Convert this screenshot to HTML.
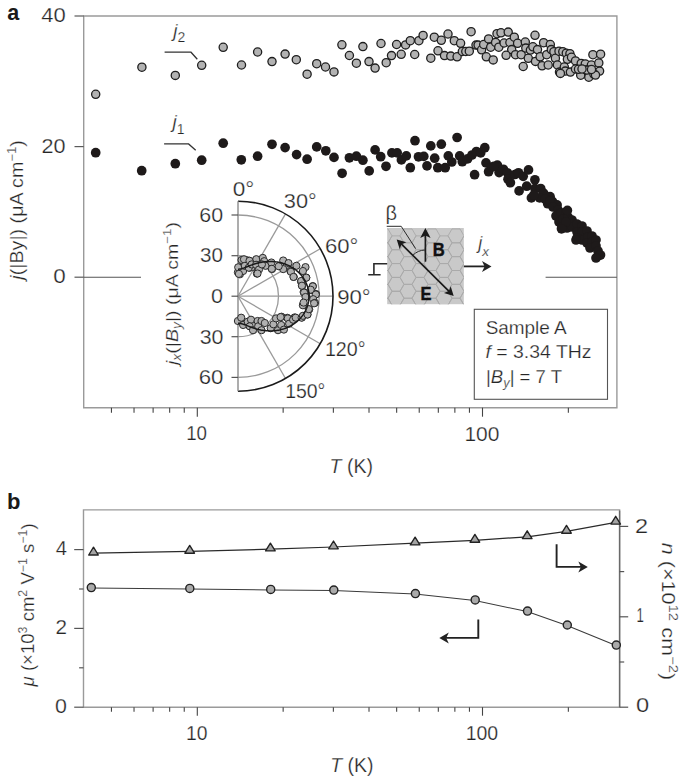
<!DOCTYPE html>
<html><head><meta charset="utf-8"><style>
html,body{margin:0;padding:0;background:#fff;overflow:hidden;width:685px;height:778px;}
svg{display:block;font-family:"Liberation Sans", sans-serif;}
text:not([font-weight]){stroke:#fff;stroke-width:0.25px;paint-order:normal;}
</style></head><body>
<svg width="685" height="778" viewBox="0 0 685 778">
<rect width="685" height="778" fill="#fff"/>
<path d="M83.7 16.0 H616.9 V407.7 H83.7 Z" fill="none" stroke="#9a9a9a" stroke-width="1.4"/>
<line x1="74.50" y1="16.00" x2="83.70" y2="16.00" stroke="#5a5a5a" stroke-width="1.2" />
<line x1="74.50" y1="146.60" x2="83.70" y2="146.60" stroke="#5a5a5a" stroke-width="1.2" />
<line x1="74.50" y1="277.20" x2="83.70" y2="277.20" stroke="#5a5a5a" stroke-width="1.2" />
<line x1="83.70" y1="277.20" x2="141.00" y2="277.20" stroke="#555" stroke-width="1.1" />
<line x1="545.60" y1="277.20" x2="616.90" y2="277.20" stroke="#555" stroke-width="1.1" />
<line x1="111.45" y1="407.70" x2="111.45" y2="412.70" stroke="#444" stroke-width="1.1" />
<line x1="134.03" y1="407.70" x2="134.03" y2="412.70" stroke="#444" stroke-width="1.1" />
<line x1="153.12" y1="407.70" x2="153.12" y2="412.70" stroke="#444" stroke-width="1.1" />
<line x1="169.66" y1="407.70" x2="169.66" y2="412.70" stroke="#444" stroke-width="1.1" />
<line x1="184.25" y1="407.70" x2="184.25" y2="412.70" stroke="#444" stroke-width="1.1" />
<line x1="283.15" y1="407.70" x2="283.15" y2="412.70" stroke="#444" stroke-width="1.1" />
<line x1="333.37" y1="407.70" x2="333.37" y2="412.70" stroke="#444" stroke-width="1.1" />
<line x1="369.01" y1="407.70" x2="369.01" y2="412.70" stroke="#444" stroke-width="1.1" />
<line x1="396.65" y1="407.70" x2="396.65" y2="412.70" stroke="#444" stroke-width="1.1" />
<line x1="419.23" y1="407.70" x2="419.23" y2="412.70" stroke="#444" stroke-width="1.1" />
<line x1="438.32" y1="407.70" x2="438.32" y2="412.70" stroke="#444" stroke-width="1.1" />
<line x1="454.86" y1="407.70" x2="454.86" y2="412.70" stroke="#444" stroke-width="1.1" />
<line x1="469.45" y1="407.70" x2="469.45" y2="412.70" stroke="#444" stroke-width="1.1" />
<line x1="568.35" y1="407.70" x2="568.35" y2="412.70" stroke="#444" stroke-width="1.1" />
<line x1="197.30" y1="407.70" x2="197.30" y2="416.70" stroke="#444" stroke-width="1.1" />
<line x1="482.50" y1="407.70" x2="482.50" y2="416.70" stroke="#444" stroke-width="1.1" />
<text x="7.20" y="19.80" font-size="22" textLength="12" lengthAdjust="spacingAndGlyphs" font-weight="bold" fill="#1a1a1a" >a</text>
<text x="41.21" y="21.70" font-size="20" textLength="24.47" lengthAdjust="spacingAndGlyphs" fill="#262626" >40</text>
<text x="41.52" y="152.60" font-size="20" textLength="24.04" lengthAdjust="spacingAndGlyphs" fill="#262626" >20</text>
<text x="53.30" y="283.20" font-size="20" textLength="12.46" lengthAdjust="spacingAndGlyphs" fill="#262626" >0</text>
<text x="186.19" y="440.30" font-size="20" textLength="20.85" lengthAdjust="spacingAndGlyphs" fill="#262626" >10</text>
<text x="464.43" y="440.80" font-size="20" textLength="34.98" lengthAdjust="spacingAndGlyphs" fill="#262626" >100</text>
<text x="329.6" y="473.4" font-size="19.5" fill="#262626"><tspan font-style="italic">T</tspan> (K)</text>
<text transform="translate(22.7,209.9) rotate(-90)" font-size="18" text-anchor="middle" fill="#262626" textLength="139.5" lengthAdjust="spacingAndGlyphs"><tspan font-style="italic">j</tspan>(|By|) (μA cm<tspan font-size="12" dy="-7">−1</tspan><tspan dy="7">)</tspan></text>
<text x="173.2" y="37.2" font-size="19" fill="#262626"><tspan font-style="italic">j</tspan><tspan font-size="14" dy="5">2</tspan></text>
<path d="M164.6 52.2 H191 L197.3 59.2" fill="none" stroke="#333" stroke-width="1.3"/>
<text x="172.4" y="128.3" font-size="19" fill="#262626"><tspan font-style="italic">j</tspan><tspan font-size="14" dy="6">1</tspan></text>
<path d="M164.1 143.9 H188.6 L195.7 150.2" fill="none" stroke="#333" stroke-width="1.3"/>
<circle cx="95.7" cy="94.3" r="4.1" fill="#b2b2b2" stroke="#1e1e1e" stroke-width="1.3"/>
<circle cx="141.9" cy="67.2" r="4.1" fill="#b2b2b2" stroke="#1e1e1e" stroke-width="1.3"/>
<circle cx="175.3" cy="75.4" r="4.1" fill="#b2b2b2" stroke="#1e1e1e" stroke-width="1.3"/>
<circle cx="201.7" cy="65.3" r="4.1" fill="#b2b2b2" stroke="#1e1e1e" stroke-width="1.3"/>
<circle cx="223.2" cy="47.3" r="4.1" fill="#b2b2b2" stroke="#1e1e1e" stroke-width="1.3"/>
<circle cx="241.5" cy="65.0" r="4.1" fill="#b2b2b2" stroke="#1e1e1e" stroke-width="1.3"/>
<circle cx="257.6" cy="52.0" r="4.1" fill="#b2b2b2" stroke="#1e1e1e" stroke-width="1.3"/>
<circle cx="272.0" cy="61.6" r="4.1" fill="#b2b2b2" stroke="#1e1e1e" stroke-width="1.3"/>
<circle cx="285.1" cy="54.1" r="4.1" fill="#b2b2b2" stroke="#1e1e1e" stroke-width="1.3"/>
<circle cx="296.3" cy="59.7" r="4.1" fill="#b2b2b2" stroke="#1e1e1e" stroke-width="1.3"/>
<circle cx="307.1" cy="74.2" r="4.1" fill="#b2b2b2" stroke="#1e1e1e" stroke-width="1.3"/>
<circle cx="316.7" cy="63.7" r="4.1" fill="#b2b2b2" stroke="#1e1e1e" stroke-width="1.3"/>
<circle cx="325.5" cy="67.0" r="4.1" fill="#b2b2b2" stroke="#1e1e1e" stroke-width="1.3"/>
<circle cx="334.0" cy="71.9" r="4.1" fill="#b2b2b2" stroke="#1e1e1e" stroke-width="1.3"/>
<circle cx="341.9" cy="44.8" r="4.1" fill="#b2b2b2" stroke="#1e1e1e" stroke-width="1.3"/>
<circle cx="349.4" cy="55.5" r="4.1" fill="#b2b2b2" stroke="#1e1e1e" stroke-width="1.3"/>
<circle cx="356.4" cy="63.2" r="4.1" fill="#b2b2b2" stroke="#1e1e1e" stroke-width="1.3"/>
<circle cx="362.9" cy="46.6" r="4.1" fill="#b2b2b2" stroke="#1e1e1e" stroke-width="1.3"/>
<circle cx="369.0" cy="61.6" r="4.1" fill="#b2b2b2" stroke="#1e1e1e" stroke-width="1.3"/>
<circle cx="375.1" cy="68.1" r="4.1" fill="#b2b2b2" stroke="#1e1e1e" stroke-width="1.3"/>
<circle cx="381.0" cy="43.5" r="4.1" fill="#b2b2b2" stroke="#1e1e1e" stroke-width="1.3"/>
<circle cx="386.2" cy="62.7" r="4.1" fill="#b2b2b2" stroke="#1e1e1e" stroke-width="1.3"/>
<circle cx="391.5" cy="55.6" r="4.1" fill="#b2b2b2" stroke="#1e1e1e" stroke-width="1.3"/>
<circle cx="396.6" cy="44.5" r="4.1" fill="#b2b2b2" stroke="#1e1e1e" stroke-width="1.3"/>
<circle cx="401.2" cy="54.3" r="4.1" fill="#b2b2b2" stroke="#1e1e1e" stroke-width="1.3"/>
<circle cx="405.6" cy="44.9" r="4.1" fill="#b2b2b2" stroke="#1e1e1e" stroke-width="1.3"/>
<circle cx="410.3" cy="40.7" r="4.1" fill="#b2b2b2" stroke="#1e1e1e" stroke-width="1.3"/>
<circle cx="414.7" cy="54.5" r="4.1" fill="#b2b2b2" stroke="#1e1e1e" stroke-width="1.3"/>
<circle cx="418.9" cy="40.7" r="4.1" fill="#b2b2b2" stroke="#1e1e1e" stroke-width="1.3"/>
<circle cx="423.1" cy="35.4" r="4.1" fill="#b2b2b2" stroke="#1e1e1e" stroke-width="1.3"/>
<circle cx="430.8" cy="58.2" r="4.1" fill="#b2b2b2" stroke="#1e1e1e" stroke-width="1.3"/>
<circle cx="434.3" cy="37.2" r="4.1" fill="#b2b2b2" stroke="#1e1e1e" stroke-width="1.3"/>
<circle cx="438.0" cy="50.8" r="4.1" fill="#b2b2b2" stroke="#1e1e1e" stroke-width="1.3"/>
<circle cx="441.3" cy="40.3" r="4.1" fill="#b2b2b2" stroke="#1e1e1e" stroke-width="1.3"/>
<circle cx="444.5" cy="55.6" r="4.1" fill="#b2b2b2" stroke="#1e1e1e" stroke-width="1.3"/>
<circle cx="448.0" cy="34.0" r="4.1" fill="#b2b2b2" stroke="#1e1e1e" stroke-width="1.3"/>
<circle cx="450.8" cy="56.1" r="4.1" fill="#b2b2b2" stroke="#1e1e1e" stroke-width="1.3"/>
<circle cx="454.3" cy="40.7" r="4.1" fill="#b2b2b2" stroke="#1e1e1e" stroke-width="1.3"/>
<circle cx="457.1" cy="56.8" r="4.1" fill="#b2b2b2" stroke="#1e1e1e" stroke-width="1.3"/>
<circle cx="460.6" cy="43.3" r="4.1" fill="#b2b2b2" stroke="#1e1e1e" stroke-width="1.3"/>
<circle cx="462.3" cy="51.5" r="4.1" fill="#b2b2b2" stroke="#1e1e1e" stroke-width="1.3"/>
<circle cx="465.8" cy="51.5" r="4.1" fill="#b2b2b2" stroke="#1e1e1e" stroke-width="1.3"/>
<circle cx="469.3" cy="51.2" r="4.1" fill="#b2b2b2" stroke="#1e1e1e" stroke-width="1.3"/>
<circle cx="471.1" cy="31.7" r="4.1" fill="#b2b2b2" stroke="#1e1e1e" stroke-width="1.3"/>
<circle cx="476.0" cy="45.1" r="4.1" fill="#b2b2b2" stroke="#1e1e1e" stroke-width="1.3"/>
<circle cx="478.1" cy="45.1" r="4.1" fill="#b2b2b2" stroke="#1e1e1e" stroke-width="1.3"/>
<circle cx="481.6" cy="49.8" r="4.1" fill="#b2b2b2" stroke="#1e1e1e" stroke-width="1.3"/>
<circle cx="483.7" cy="44.5" r="4.1" fill="#b2b2b2" stroke="#1e1e1e" stroke-width="1.3"/>
<circle cx="486.3" cy="56.8" r="4.1" fill="#b2b2b2" stroke="#1e1e1e" stroke-width="1.3"/>
<circle cx="488.6" cy="38.9" r="4.1" fill="#b2b2b2" stroke="#1e1e1e" stroke-width="1.3"/>
<circle cx="490.7" cy="47.2" r="4.1" fill="#b2b2b2" stroke="#1e1e1e" stroke-width="1.3"/>
<circle cx="493.2" cy="59.9" r="4.1" fill="#b2b2b2" stroke="#1e1e1e" stroke-width="1.3"/>
<circle cx="495.6" cy="42.4" r="4.1" fill="#b2b2b2" stroke="#1e1e1e" stroke-width="1.3"/>
<circle cx="497.0" cy="33.7" r="4.1" fill="#b2b2b2" stroke="#1e1e1e" stroke-width="1.3"/>
<circle cx="498.8" cy="47.2" r="4.1" fill="#b2b2b2" stroke="#1e1e1e" stroke-width="1.3"/>
<circle cx="501.0" cy="32.8" r="4.1" fill="#b2b2b2" stroke="#1e1e1e" stroke-width="1.3"/>
<circle cx="508.2" cy="32.1" r="4.1" fill="#b2b2b2" stroke="#1e1e1e" stroke-width="1.3"/>
<circle cx="504.1" cy="43.0" r="4.1" fill="#b2b2b2" stroke="#1e1e1e" stroke-width="1.3"/>
<circle cx="509.9" cy="42.5" r="4.1" fill="#b2b2b2" stroke="#1e1e1e" stroke-width="1.3"/>
<circle cx="514.3" cy="37.2" r="4.1" fill="#b2b2b2" stroke="#1e1e1e" stroke-width="1.3"/>
<circle cx="517.6" cy="43.3" r="4.1" fill="#b2b2b2" stroke="#1e1e1e" stroke-width="1.3"/>
<circle cx="511.7" cy="49.6" r="4.1" fill="#b2b2b2" stroke="#1e1e1e" stroke-width="1.3"/>
<circle cx="506.1" cy="55.3" r="4.1" fill="#b2b2b2" stroke="#1e1e1e" stroke-width="1.3"/>
<circle cx="515.5" cy="54.7" r="4.1" fill="#b2b2b2" stroke="#1e1e1e" stroke-width="1.3"/>
<circle cx="521.2" cy="54.7" r="4.1" fill="#b2b2b2" stroke="#1e1e1e" stroke-width="1.3"/>
<circle cx="525.3" cy="42.0" r="4.1" fill="#b2b2b2" stroke="#1e1e1e" stroke-width="1.3"/>
<circle cx="525.8" cy="48.1" r="4.1" fill="#b2b2b2" stroke="#1e1e1e" stroke-width="1.3"/>
<circle cx="528.3" cy="58.3" r="4.1" fill="#b2b2b2" stroke="#1e1e1e" stroke-width="1.3"/>
<circle cx="530.4" cy="50.1" r="4.1" fill="#b2b2b2" stroke="#1e1e1e" stroke-width="1.3"/>
<circle cx="532.9" cy="46.8" r="4.1" fill="#b2b2b2" stroke="#1e1e1e" stroke-width="1.3"/>
<circle cx="535.0" cy="35.3" r="4.1" fill="#b2b2b2" stroke="#1e1e1e" stroke-width="1.3"/>
<circle cx="537.5" cy="49.6" r="4.1" fill="#b2b2b2" stroke="#1e1e1e" stroke-width="1.3"/>
<circle cx="535.5" cy="61.4" r="4.1" fill="#b2b2b2" stroke="#1e1e1e" stroke-width="1.3"/>
<circle cx="523.2" cy="66.5" r="4.1" fill="#b2b2b2" stroke="#1e1e1e" stroke-width="1.3"/>
<circle cx="540.1" cy="56.8" r="4.1" fill="#b2b2b2" stroke="#1e1e1e" stroke-width="1.3"/>
<circle cx="542.1" cy="65.8" r="4.1" fill="#b2b2b2" stroke="#1e1e1e" stroke-width="1.3"/>
<circle cx="543.6" cy="42.7" r="4.1" fill="#b2b2b2" stroke="#1e1e1e" stroke-width="1.3"/>
<circle cx="546.7" cy="54.7" r="4.1" fill="#b2b2b2" stroke="#1e1e1e" stroke-width="1.3"/>
<circle cx="548.2" cy="65.0" r="4.1" fill="#b2b2b2" stroke="#1e1e1e" stroke-width="1.3"/>
<circle cx="550.3" cy="44.5" r="4.1" fill="#b2b2b2" stroke="#1e1e1e" stroke-width="1.3"/>
<circle cx="551.3" cy="49.6" r="4.1" fill="#b2b2b2" stroke="#1e1e1e" stroke-width="1.3"/>
<circle cx="553.9" cy="51.7" r="4.1" fill="#b2b2b2" stroke="#1e1e1e" stroke-width="1.3"/>
<circle cx="555.4" cy="58.3" r="4.1" fill="#b2b2b2" stroke="#1e1e1e" stroke-width="1.3"/>
<circle cx="557.4" cy="65.0" r="4.1" fill="#b2b2b2" stroke="#1e1e1e" stroke-width="1.3"/>
<circle cx="559.0" cy="51.2" r="4.1" fill="#b2b2b2" stroke="#1e1e1e" stroke-width="1.3"/>
<circle cx="559.5" cy="72.1" r="4.1" fill="#b2b2b2" stroke="#1e1e1e" stroke-width="1.3"/>
<circle cx="562.8" cy="51.7" r="4.1" fill="#b2b2b2" stroke="#1e1e1e" stroke-width="1.3"/>
<circle cx="566.3" cy="53.2" r="4.1" fill="#b2b2b2" stroke="#1e1e1e" stroke-width="1.3"/>
<circle cx="569.9" cy="53.7" r="4.1" fill="#b2b2b2" stroke="#1e1e1e" stroke-width="1.3"/>
<circle cx="567.4" cy="59.3" r="4.1" fill="#b2b2b2" stroke="#1e1e1e" stroke-width="1.3"/>
<circle cx="571.5" cy="57.3" r="4.1" fill="#b2b2b2" stroke="#1e1e1e" stroke-width="1.3"/>
<circle cx="575.5" cy="60.9" r="4.1" fill="#b2b2b2" stroke="#1e1e1e" stroke-width="1.3"/>
<circle cx="564.3" cy="67.0" r="4.1" fill="#b2b2b2" stroke="#1e1e1e" stroke-width="1.3"/>
<circle cx="565.3" cy="71.1" r="4.1" fill="#b2b2b2" stroke="#1e1e1e" stroke-width="1.3"/>
<circle cx="570.4" cy="72.1" r="4.1" fill="#b2b2b2" stroke="#1e1e1e" stroke-width="1.3"/>
<circle cx="575.5" cy="69.0" r="4.1" fill="#b2b2b2" stroke="#1e1e1e" stroke-width="1.3"/>
<circle cx="581.2" cy="63.4" r="4.1" fill="#b2b2b2" stroke="#1e1e1e" stroke-width="1.3"/>
<circle cx="585.3" cy="63.9" r="4.1" fill="#b2b2b2" stroke="#1e1e1e" stroke-width="1.3"/>
<circle cx="591.4" cy="65.0" r="4.1" fill="#b2b2b2" stroke="#1e1e1e" stroke-width="1.3"/>
<circle cx="580.7" cy="75.2" r="4.1" fill="#b2b2b2" stroke="#1e1e1e" stroke-width="1.3"/>
<circle cx="586.3" cy="70.1" r="4.1" fill="#b2b2b2" stroke="#1e1e1e" stroke-width="1.3"/>
<circle cx="588.8" cy="77.2" r="4.1" fill="#b2b2b2" stroke="#1e1e1e" stroke-width="1.3"/>
<circle cx="592.9" cy="54.7" r="4.1" fill="#b2b2b2" stroke="#1e1e1e" stroke-width="1.3"/>
<circle cx="600.6" cy="54.2" r="4.1" fill="#b2b2b2" stroke="#1e1e1e" stroke-width="1.3"/>
<circle cx="598.8" cy="62.9" r="4.1" fill="#b2b2b2" stroke="#1e1e1e" stroke-width="1.3"/>
<circle cx="599.6" cy="71.1" r="4.1" fill="#b2b2b2" stroke="#1e1e1e" stroke-width="1.3"/>
<circle cx="593.9" cy="74.2" r="4.1" fill="#b2b2b2" stroke="#1e1e1e" stroke-width="1.3"/>
<circle cx="560.4" cy="73.4" r="4.1" fill="#b2b2b2" stroke="#1e1e1e" stroke-width="1.3"/>
<circle cx="578.5" cy="69.3" r="4.1" fill="#b2b2b2" stroke="#1e1e1e" stroke-width="1.3"/>
<circle cx="595.5" cy="75.1" r="4.1" fill="#b2b2b2" stroke="#1e1e1e" stroke-width="1.3"/>
<circle cx="587.0" cy="70.1" r="4.1" fill="#b2b2b2" stroke="#1e1e1e" stroke-width="1.3"/>
<circle cx="591.5" cy="69.5" r="4.1" fill="#b2b2b2" stroke="#1e1e1e" stroke-width="1.3"/>
<circle cx="582.0" cy="69.0" r="4.1" fill="#b2b2b2" stroke="#1e1e1e" stroke-width="1.3"/>
<circle cx="95.7" cy="152.7" r="4.85" fill="#1e1a1a"/>
<circle cx="141.7" cy="170.7" r="4.85" fill="#1e1a1a"/>
<circle cx="175.3" cy="163.7" r="4.85" fill="#1e1a1a"/>
<circle cx="201.7" cy="160.2" r="4.85" fill="#1e1a1a"/>
<circle cx="223.2" cy="143.2" r="4.85" fill="#1e1a1a"/>
<circle cx="241.3" cy="159.8" r="4.85" fill="#1e1a1a"/>
<circle cx="257.6" cy="156.2" r="4.85" fill="#1e1a1a"/>
<circle cx="272.0" cy="144.3" r="4.85" fill="#1e1a1a"/>
<circle cx="285.1" cy="147.6" r="4.85" fill="#1e1a1a"/>
<circle cx="296.6" cy="154.6" r="4.85" fill="#1e1a1a"/>
<circle cx="307.1" cy="159.2" r="4.85" fill="#1e1a1a"/>
<circle cx="316.7" cy="146.9" r="4.85" fill="#1e1a1a"/>
<circle cx="325.8" cy="150.8" r="4.85" fill="#1e1a1a"/>
<circle cx="334.0" cy="157.4" r="4.85" fill="#1e1a1a"/>
<circle cx="342.1" cy="173.3" r="4.85" fill="#1e1a1a"/>
<circle cx="349.4" cy="157.8" r="4.85" fill="#1e1a1a"/>
<circle cx="356.4" cy="156.2" r="4.85" fill="#1e1a1a"/>
<circle cx="362.9" cy="160.2" r="4.85" fill="#1e1a1a"/>
<circle cx="369.2" cy="170.9" r="4.85" fill="#1e1a1a"/>
<circle cx="375.1" cy="149.9" r="4.85" fill="#1e1a1a"/>
<circle cx="380.7" cy="156.7" r="4.85" fill="#1e1a1a"/>
<circle cx="386.0" cy="166.3" r="4.85" fill="#1e1a1a"/>
<circle cx="391.9" cy="152.9" r="4.85" fill="#1e1a1a"/>
<circle cx="397.2" cy="152.9" r="4.85" fill="#1e1a1a"/>
<circle cx="401.4" cy="159.9" r="4.85" fill="#1e1a1a"/>
<circle cx="406.3" cy="155.9" r="4.85" fill="#1e1a1a"/>
<circle cx="410.3" cy="167.7" r="4.85" fill="#1e1a1a"/>
<circle cx="415.0" cy="140.7" r="4.85" fill="#1e1a1a"/>
<circle cx="418.5" cy="156.8" r="4.85" fill="#1e1a1a"/>
<circle cx="423.8" cy="156.4" r="4.85" fill="#1e1a1a"/>
<circle cx="427.0" cy="165.9" r="4.85" fill="#1e1a1a"/>
<circle cx="430.8" cy="145.9" r="4.85" fill="#1e1a1a"/>
<circle cx="434.7" cy="158.2" r="4.85" fill="#1e1a1a"/>
<circle cx="437.8" cy="167.7" r="4.85" fill="#1e1a1a"/>
<circle cx="441.3" cy="144.2" r="4.85" fill="#1e1a1a"/>
<circle cx="445.2" cy="167.7" r="4.85" fill="#1e1a1a"/>
<circle cx="448.3" cy="155.9" r="4.85" fill="#1e1a1a"/>
<circle cx="451.8" cy="162.0" r="4.85" fill="#1e1a1a"/>
<circle cx="457.1" cy="137.5" r="4.85" fill="#1e1a1a"/>
<circle cx="459.7" cy="155.9" r="4.85" fill="#1e1a1a"/>
<circle cx="462.3" cy="161.7" r="4.85" fill="#1e1a1a"/>
<circle cx="467.6" cy="158.9" r="4.85" fill="#1e1a1a"/>
<circle cx="472.0" cy="155.0" r="4.85" fill="#1e1a1a"/>
<circle cx="474.6" cy="174.7" r="4.85" fill="#1e1a1a"/>
<circle cx="476.4" cy="151.5" r="4.85" fill="#1e1a1a"/>
<circle cx="480.7" cy="152.9" r="4.85" fill="#1e1a1a"/>
<circle cx="484.8" cy="147.7" r="4.85" fill="#1e1a1a"/>
<circle cx="486.0" cy="162.9" r="4.85" fill="#1e1a1a"/>
<circle cx="488.6" cy="171.7" r="4.85" fill="#1e1a1a"/>
<circle cx="492.1" cy="167.0" r="4.85" fill="#1e1a1a"/>
<circle cx="497.4" cy="165.2" r="4.85" fill="#1e1a1a"/>
<circle cx="499.1" cy="172.6" r="4.85" fill="#1e1a1a"/>
<circle cx="494.0" cy="166.4" r="4.85" fill="#1e1a1a"/>
<circle cx="503.4" cy="169.3" r="4.85" fill="#1e1a1a"/>
<circle cx="507.4" cy="172.8" r="4.85" fill="#1e1a1a"/>
<circle cx="508.0" cy="179.2" r="4.85" fill="#1e1a1a"/>
<circle cx="510.4" cy="182.7" r="4.85" fill="#1e1a1a"/>
<circle cx="515.0" cy="174.5" r="4.85" fill="#1e1a1a"/>
<circle cx="518.5" cy="172.8" r="4.85" fill="#1e1a1a"/>
<circle cx="523.2" cy="176.3" r="4.85" fill="#1e1a1a"/>
<circle cx="528.5" cy="169.9" r="4.85" fill="#1e1a1a"/>
<circle cx="519.1" cy="190.9" r="4.85" fill="#1e1a1a"/>
<circle cx="526.7" cy="186.2" r="4.85" fill="#1e1a1a"/>
<circle cx="534.9" cy="179.8" r="4.85" fill="#1e1a1a"/>
<circle cx="534.9" cy="188.5" r="4.85" fill="#1e1a1a"/>
<circle cx="531.4" cy="197.9" r="4.85" fill="#1e1a1a"/>
<circle cx="540.7" cy="188.5" r="4.85" fill="#1e1a1a"/>
<circle cx="543.6" cy="193.2" r="4.85" fill="#1e1a1a"/>
<circle cx="539.6" cy="197.9" r="4.85" fill="#1e1a1a"/>
<circle cx="550.1" cy="196.7" r="4.85" fill="#1e1a1a"/>
<circle cx="552.4" cy="201.4" r="4.85" fill="#1e1a1a"/>
<circle cx="557.1" cy="204.9" r="4.85" fill="#1e1a1a"/>
<circle cx="547.7" cy="203.7" r="4.85" fill="#1e1a1a"/>
<circle cx="533.9" cy="195.0" r="4.85" fill="#1e1a1a"/>
<circle cx="545.0" cy="199.0" r="4.85" fill="#1e1a1a"/>
<circle cx="550.0" cy="201.0" r="4.85" fill="#1e1a1a"/>
<circle cx="553.0" cy="207.0" r="4.85" fill="#1e1a1a"/>
<circle cx="558.0" cy="210.0" r="4.85" fill="#1e1a1a"/>
<circle cx="556.0" cy="216.0" r="4.85" fill="#1e1a1a"/>
<circle cx="561.0" cy="213.0" r="4.85" fill="#1e1a1a"/>
<circle cx="566.0" cy="212.0" r="4.85" fill="#1e1a1a"/>
<circle cx="559.0" cy="222.0" r="4.85" fill="#1e1a1a"/>
<circle cx="563.0" cy="219.0" r="4.85" fill="#1e1a1a"/>
<circle cx="568.0" cy="217.0" r="4.85" fill="#1e1a1a"/>
<circle cx="572.0" cy="220.0" r="4.85" fill="#1e1a1a"/>
<circle cx="562.0" cy="227.0" r="4.85" fill="#1e1a1a"/>
<circle cx="567.0" cy="228.0" r="4.85" fill="#1e1a1a"/>
<circle cx="572.0" cy="227.0" r="4.85" fill="#1e1a1a"/>
<circle cx="577.0" cy="224.0" r="4.85" fill="#1e1a1a"/>
<circle cx="582.0" cy="226.0" r="4.85" fill="#1e1a1a"/>
<circle cx="577.0" cy="232.0" r="4.85" fill="#1e1a1a"/>
<circle cx="582.0" cy="232.0" r="4.85" fill="#1e1a1a"/>
<circle cx="587.0" cy="231.0" r="4.85" fill="#1e1a1a"/>
<circle cx="577.0" cy="238.0" r="4.85" fill="#1e1a1a"/>
<circle cx="582.0" cy="240.0" r="4.85" fill="#1e1a1a"/>
<circle cx="588.0" cy="237.0" r="4.85" fill="#1e1a1a"/>
<circle cx="592.0" cy="236.0" r="4.85" fill="#1e1a1a"/>
<circle cx="587.0" cy="243.0" r="4.85" fill="#1e1a1a"/>
<circle cx="592.0" cy="242.0" r="4.85" fill="#1e1a1a"/>
<circle cx="596.0" cy="240.0" r="4.85" fill="#1e1a1a"/>
<circle cx="590.0" cy="248.0" r="4.85" fill="#1e1a1a"/>
<circle cx="596.0" cy="246.0" r="4.85" fill="#1e1a1a"/>
<circle cx="598.0" cy="251.0" r="4.85" fill="#1e1a1a"/>
<circle cx="598.0" cy="256.0" r="4.85" fill="#1e1a1a"/>
<circle cx="600.5" cy="255.0" r="4.85" fill="#1e1a1a"/>
<circle cx="596.0" cy="258.0" r="4.85" fill="#1e1a1a"/>
<circle cx="566.0" cy="222.0" r="4.85" fill="#1e1a1a"/>
<circle cx="561.5" cy="228.8" r="4.85" fill="#1e1a1a"/>
<circle cx="576.0" cy="240.0" r="4.85" fill="#1e1a1a"/>
<circle cx="567.4" cy="210.4" r="4.85" fill="#1e1a1a"/>
<g fill="none">
<path d="M238.0 255.70 A40.5 40.5 0 0 1 238.0 336.70" stroke="#9a9a9a" stroke-width="1.3"/>
<path d="M238.0 215.00 A81.2 81.2 0 0 1 238.0 377.40" stroke="#9a9a9a" stroke-width="1.3"/>
<line x1="238.00" y1="296.20" x2="285.50" y2="213.93" stroke="#9a9a9a" stroke-width="1.3" />
<line x1="238.00" y1="296.20" x2="320.27" y2="248.70" stroke="#9a9a9a" stroke-width="1.3" />
<line x1="238.00" y1="296.20" x2="333.00" y2="296.20" stroke="#9a9a9a" stroke-width="1.3" />
<line x1="238.00" y1="296.20" x2="320.27" y2="343.70" stroke="#9a9a9a" stroke-width="1.3" />
<line x1="238.00" y1="296.20" x2="285.50" y2="378.47" stroke="#9a9a9a" stroke-width="1.3" />
<path d="M238.0 201.20 A95.0 95.0 0 0 1 238.0 391.20" stroke="#1a1a1a" stroke-width="1.6"/>
</g>
<line x1="238.00" y1="201.20" x2="238.00" y2="391.20" stroke="#8a8a8a" stroke-width="1.4" />
<line x1="231.50" y1="215.00" x2="238.00" y2="215.00" stroke="#555" stroke-width="1.2" />
<line x1="231.50" y1="255.70" x2="238.00" y2="255.70" stroke="#555" stroke-width="1.2" />
<line x1="231.50" y1="296.20" x2="238.00" y2="296.20" stroke="#555" stroke-width="1.2" />
<line x1="231.50" y1="336.70" x2="238.00" y2="336.70" stroke="#555" stroke-width="1.2" />
<line x1="231.50" y1="377.40" x2="238.00" y2="377.40" stroke="#555" stroke-width="1.2" />
<circle cx="239.2" cy="267.7" r="3.6" fill="#b0b0b0" stroke="#2a2a2a" stroke-width="1.0"/>
<circle cx="237.9" cy="272.3" r="3.6" fill="#b0b0b0" stroke="#2a2a2a" stroke-width="1.0"/>
<circle cx="239.9" cy="274.3" r="3.6" fill="#b0b0b0" stroke="#2a2a2a" stroke-width="1.0"/>
<circle cx="242.5" cy="260.5" r="3.6" fill="#b0b0b0" stroke="#2a2a2a" stroke-width="1.0"/>
<circle cx="244.5" cy="262.5" r="3.6" fill="#b0b0b0" stroke="#2a2a2a" stroke-width="1.0"/>
<circle cx="243.1" cy="271.0" r="3.6" fill="#b0b0b0" stroke="#2a2a2a" stroke-width="1.0"/>
<circle cx="247.1" cy="260.5" r="3.6" fill="#b0b0b0" stroke="#2a2a2a" stroke-width="1.0"/>
<circle cx="248.4" cy="263.1" r="3.6" fill="#b0b0b0" stroke="#2a2a2a" stroke-width="1.0"/>
<circle cx="249.7" cy="267.7" r="3.6" fill="#b0b0b0" stroke="#2a2a2a" stroke-width="1.0"/>
<circle cx="252.3" cy="267.1" r="3.6" fill="#b0b0b0" stroke="#2a2a2a" stroke-width="1.0"/>
<circle cx="256.3" cy="259.2" r="3.6" fill="#b0b0b0" stroke="#2a2a2a" stroke-width="1.0"/>
<circle cx="256.9" cy="265.1" r="3.6" fill="#b0b0b0" stroke="#2a2a2a" stroke-width="1.0"/>
<circle cx="258.2" cy="269.7" r="3.6" fill="#b0b0b0" stroke="#2a2a2a" stroke-width="1.0"/>
<circle cx="256.9" cy="273.6" r="3.6" fill="#b0b0b0" stroke="#2a2a2a" stroke-width="1.0"/>
<circle cx="262.8" cy="257.9" r="3.6" fill="#b0b0b0" stroke="#2a2a2a" stroke-width="1.0"/>
<circle cx="264.2" cy="261.2" r="3.6" fill="#b0b0b0" stroke="#2a2a2a" stroke-width="1.0"/>
<circle cx="265.5" cy="265.8" r="3.6" fill="#b0b0b0" stroke="#2a2a2a" stroke-width="1.0"/>
<circle cx="271.4" cy="262.5" r="3.6" fill="#b0b0b0" stroke="#2a2a2a" stroke-width="1.0"/>
<circle cx="272.0" cy="269.1" r="3.6" fill="#b0b0b0" stroke="#2a2a2a" stroke-width="1.0"/>
<circle cx="283.2" cy="260.5" r="3.6" fill="#b0b0b0" stroke="#2a2a2a" stroke-width="1.0"/>
<circle cx="288.5" cy="263.1" r="3.6" fill="#b0b0b0" stroke="#2a2a2a" stroke-width="1.0"/>
<circle cx="280.6" cy="266.4" r="3.6" fill="#b0b0b0" stroke="#2a2a2a" stroke-width="1.0"/>
<circle cx="283.2" cy="269.1" r="3.6" fill="#b0b0b0" stroke="#2a2a2a" stroke-width="1.0"/>
<circle cx="290.4" cy="271.0" r="3.6" fill="#b0b0b0" stroke="#2a2a2a" stroke-width="1.0"/>
<circle cx="296.4" cy="265.8" r="3.6" fill="#b0b0b0" stroke="#2a2a2a" stroke-width="1.0"/>
<circle cx="293.7" cy="276.9" r="3.6" fill="#b0b0b0" stroke="#2a2a2a" stroke-width="1.0"/>
<circle cx="305.5" cy="267.1" r="3.6" fill="#b0b0b0" stroke="#2a2a2a" stroke-width="1.0"/>
<circle cx="302.9" cy="271.0" r="3.6" fill="#b0b0b0" stroke="#2a2a2a" stroke-width="1.0"/>
<circle cx="306.2" cy="277.6" r="3.6" fill="#b0b0b0" stroke="#2a2a2a" stroke-width="1.0"/>
<circle cx="301.0" cy="281.5" r="3.6" fill="#b0b0b0" stroke="#2a2a2a" stroke-width="1.0"/>
<circle cx="302.3" cy="285.5" r="3.6" fill="#b0b0b0" stroke="#2a2a2a" stroke-width="1.0"/>
<circle cx="312.8" cy="286.1" r="3.6" fill="#b0b0b0" stroke="#2a2a2a" stroke-width="1.0"/>
<circle cx="310.8" cy="290.1" r="3.6" fill="#b0b0b0" stroke="#2a2a2a" stroke-width="1.0"/>
<circle cx="316.1" cy="294.0" r="3.6" fill="#b0b0b0" stroke="#2a2a2a" stroke-width="1.0"/>
<circle cx="303.6" cy="292.0" r="3.6" fill="#b0b0b0" stroke="#2a2a2a" stroke-width="1.0"/>
<circle cx="306.2" cy="296.0" r="3.6" fill="#b0b0b0" stroke="#2a2a2a" stroke-width="1.0"/>
<circle cx="241.5" cy="260.0" r="3.6" fill="#b0b0b0" stroke="#2a2a2a" stroke-width="1.0"/>
<circle cx="244.0" cy="259.3" r="3.6" fill="#b0b0b0" stroke="#2a2a2a" stroke-width="1.0"/>
<circle cx="249.5" cy="260.8" r="3.6" fill="#b0b0b0" stroke="#2a2a2a" stroke-width="1.0"/>
<circle cx="238.2" cy="267.3" r="3.6" fill="#b0b0b0" stroke="#2a2a2a" stroke-width="1.0"/>
<circle cx="238.9" cy="273.9" r="3.6" fill="#b0b0b0" stroke="#2a2a2a" stroke-width="1.0"/>
<circle cx="244.8" cy="265.9" r="3.6" fill="#b0b0b0" stroke="#2a2a2a" stroke-width="1.0"/>
<circle cx="248.8" cy="267.7" r="3.6" fill="#b0b0b0" stroke="#2a2a2a" stroke-width="1.0"/>
<circle cx="251.7" cy="264.4" r="3.6" fill="#b0b0b0" stroke="#2a2a2a" stroke-width="1.0"/>
<circle cx="256.1" cy="264.8" r="3.6" fill="#b0b0b0" stroke="#2a2a2a" stroke-width="1.0"/>
<circle cx="259.0" cy="269.5" r="3.6" fill="#b0b0b0" stroke="#2a2a2a" stroke-width="1.0"/>
<circle cx="257.5" cy="273.5" r="3.6" fill="#b0b0b0" stroke="#2a2a2a" stroke-width="1.0"/>
<circle cx="261.9" cy="264.4" r="3.6" fill="#b0b0b0" stroke="#2a2a2a" stroke-width="1.0"/>
<circle cx="271.8" cy="268.8" r="3.6" fill="#b0b0b0" stroke="#2a2a2a" stroke-width="1.0"/>
<circle cx="278.7" cy="266.2" r="3.6" fill="#b0b0b0" stroke="#2a2a2a" stroke-width="1.0"/>
<circle cx="290.9" cy="271.8" r="3.6" fill="#b0b0b0" stroke="#2a2a2a" stroke-width="1.0"/>
<circle cx="293.5" cy="276.9" r="3.6" fill="#b0b0b0" stroke="#2a2a2a" stroke-width="1.0"/>
<circle cx="301.2" cy="281.0" r="3.6" fill="#b0b0b0" stroke="#2a2a2a" stroke-width="1.0"/>
<circle cx="306.3" cy="277.7" r="3.6" fill="#b0b0b0" stroke="#2a2a2a" stroke-width="1.0"/>
<circle cx="301.9" cy="285.7" r="3.6" fill="#b0b0b0" stroke="#2a2a2a" stroke-width="1.0"/>
<circle cx="312.8" cy="286.4" r="3.6" fill="#b0b0b0" stroke="#2a2a2a" stroke-width="1.0"/>
<circle cx="310.7" cy="289.7" r="3.6" fill="#b0b0b0" stroke="#2a2a2a" stroke-width="1.0"/>
<circle cx="304.1" cy="292.6" r="3.6" fill="#b0b0b0" stroke="#2a2a2a" stroke-width="1.0"/>
<circle cx="315.8" cy="294.5" r="3.6" fill="#b0b0b0" stroke="#2a2a2a" stroke-width="1.0"/>
<circle cx="305.5" cy="297.0" r="3.6" fill="#b0b0b0" stroke="#2a2a2a" stroke-width="1.0"/>
<circle cx="313.2" cy="299.2" r="3.6" fill="#b0b0b0" stroke="#2a2a2a" stroke-width="1.0"/>
<circle cx="315.0" cy="302.8" r="3.6" fill="#b0b0b0" stroke="#2a2a2a" stroke-width="1.0"/>
<circle cx="303.4" cy="304.3" r="3.6" fill="#b0b0b0" stroke="#2a2a2a" stroke-width="1.0"/>
<circle cx="309.2" cy="309.4" r="3.6" fill="#b0b0b0" stroke="#2a2a2a" stroke-width="1.0"/>
<circle cx="307.4" cy="314.5" r="3.6" fill="#b0b0b0" stroke="#2a2a2a" stroke-width="1.0"/>
<circle cx="301.9" cy="317.4" r="3.6" fill="#b0b0b0" stroke="#2a2a2a" stroke-width="1.0"/>
<circle cx="294.6" cy="317.4" r="3.6" fill="#b0b0b0" stroke="#2a2a2a" stroke-width="1.0"/>
<circle cx="287.3" cy="317.8" r="3.6" fill="#b0b0b0" stroke="#2a2a2a" stroke-width="1.0"/>
<circle cx="281.5" cy="316.7" r="3.6" fill="#b0b0b0" stroke="#2a2a2a" stroke-width="1.0"/>
<circle cx="237.9" cy="321.0" r="3.6" fill="#b0b0b0" stroke="#2a2a2a" stroke-width="1.0"/>
<circle cx="241.2" cy="317.7" r="3.6" fill="#b0b0b0" stroke="#2a2a2a" stroke-width="1.0"/>
<circle cx="243.1" cy="325.0" r="3.6" fill="#b0b0b0" stroke="#2a2a2a" stroke-width="1.0"/>
<circle cx="247.7" cy="321.7" r="3.6" fill="#b0b0b0" stroke="#2a2a2a" stroke-width="1.0"/>
<circle cx="251.0" cy="319.7" r="3.6" fill="#b0b0b0" stroke="#2a2a2a" stroke-width="1.0"/>
<circle cx="249.7" cy="326.3" r="3.6" fill="#b0b0b0" stroke="#2a2a2a" stroke-width="1.0"/>
<circle cx="253.0" cy="330.2" r="3.6" fill="#b0b0b0" stroke="#2a2a2a" stroke-width="1.0"/>
<circle cx="257.6" cy="321.0" r="3.6" fill="#b0b0b0" stroke="#2a2a2a" stroke-width="1.0"/>
<circle cx="258.2" cy="326.3" r="3.6" fill="#b0b0b0" stroke="#2a2a2a" stroke-width="1.0"/>
<circle cx="261.5" cy="321.0" r="3.6" fill="#b0b0b0" stroke="#2a2a2a" stroke-width="1.0"/>
<circle cx="261.5" cy="330.2" r="3.6" fill="#b0b0b0" stroke="#2a2a2a" stroke-width="1.0"/>
<circle cx="264.8" cy="323.0" r="3.6" fill="#b0b0b0" stroke="#2a2a2a" stroke-width="1.0"/>
<circle cx="270.7" cy="328.2" r="3.6" fill="#b0b0b0" stroke="#2a2a2a" stroke-width="1.0"/>
<circle cx="273.4" cy="324.3" r="3.6" fill="#b0b0b0" stroke="#2a2a2a" stroke-width="1.0"/>
<circle cx="276.0" cy="318.4" r="3.6" fill="#b0b0b0" stroke="#2a2a2a" stroke-width="1.0"/>
<circle cx="278.0" cy="330.2" r="3.6" fill="#b0b0b0" stroke="#2a2a2a" stroke-width="1.0"/>
<circle cx="280.6" cy="317.1" r="3.6" fill="#b0b0b0" stroke="#2a2a2a" stroke-width="1.0"/>
<circle cx="281.2" cy="325.0" r="3.6" fill="#b0b0b0" stroke="#2a2a2a" stroke-width="1.0"/>
<circle cx="283.9" cy="329.6" r="3.6" fill="#b0b0b0" stroke="#2a2a2a" stroke-width="1.0"/>
<circle cx="287.8" cy="318.4" r="3.6" fill="#b0b0b0" stroke="#2a2a2a" stroke-width="1.0"/>
<circle cx="289.1" cy="323.7" r="3.6" fill="#b0b0b0" stroke="#2a2a2a" stroke-width="1.0"/>
<circle cx="293.1" cy="319.7" r="3.6" fill="#b0b0b0" stroke="#2a2a2a" stroke-width="1.0"/>
<circle cx="295.7" cy="317.7" r="3.6" fill="#b0b0b0" stroke="#2a2a2a" stroke-width="1.0"/>
<circle cx="301.6" cy="317.7" r="3.6" fill="#b0b0b0" stroke="#2a2a2a" stroke-width="1.0"/>
<circle cx="302.9" cy="315.8" r="3.6" fill="#b0b0b0" stroke="#2a2a2a" stroke-width="1.0"/>
<circle cx="307.5" cy="314.5" r="3.6" fill="#b0b0b0" stroke="#2a2a2a" stroke-width="1.0"/>
<circle cx="308.8" cy="309.2" r="3.6" fill="#b0b0b0" stroke="#2a2a2a" stroke-width="1.0"/>
<circle cx="302.9" cy="305.3" r="3.6" fill="#b0b0b0" stroke="#2a2a2a" stroke-width="1.0"/>
<circle cx="303.6" cy="302.6" r="3.6" fill="#b0b0b0" stroke="#2a2a2a" stroke-width="1.0"/>
<circle cx="314.1" cy="303.3" r="3.6" fill="#b0b0b0" stroke="#2a2a2a" stroke-width="1.0"/>
<path d="M238.00 269.20 L238.47 269.19 L238.94 269.16 L239.42 269.12 L239.90 269.05 L240.38 268.97 L240.87 268.87 L241.37 268.75 L241.88 268.62 L242.39 268.47 L242.92 268.30 L243.46 268.12 L244.01 267.93 L244.57 267.72 L245.15 267.50 L245.75 267.27 L246.36 267.03 L246.99 266.78 L247.64 266.53 L248.31 266.26 L248.99 265.99 L249.70 265.72 L250.43 265.44 L251.17 265.16 L251.94 264.88 L252.73 264.61 L253.54 264.33 L254.37 264.06 L255.23 263.80 L256.10 263.54 L257.00 263.29 L257.92 263.05 L258.86 262.82 L259.81 262.61 L260.79 262.41 L261.79 262.23 L262.81 262.06 L263.84 261.91 L264.89 261.78 L265.96 261.67 L267.04 261.59 L268.14 261.53 L269.25 261.49 L270.37 261.49 L271.50 261.50 L272.65 261.55 L273.80 261.63 L274.96 261.74 L276.12 261.87 L277.29 262.04 L278.46 262.25 L279.63 262.48 L280.81 262.76 L281.98 263.06 L283.14 263.40 L284.30 263.78 L285.46 264.19 L286.60 264.64 L287.73 265.12 L288.85 265.64 L289.96 266.20 L291.05 266.79 L292.13 267.42 L293.18 268.08 L294.21 268.78 L295.23 269.52 L296.21 270.28 L297.17 271.08 L298.11 271.92 L299.01 272.78 L299.88 273.68 L300.72 274.60 L301.53 275.56 L302.30 276.54 L303.04 277.55 L303.73 278.59 L304.39 279.65 L305.01 280.73 L305.59 281.83 L306.12 282.96 L306.61 284.10 L307.06 285.26 L307.47 286.44 L307.82 287.63 L308.13 288.83 L308.40 290.04 L308.61 291.26 L308.78 292.49 L308.90 293.72 L308.98 294.96 L309.00 296.20 L308.98 297.44 L308.90 298.68 L308.78 299.91 L308.61 301.14 L308.40 302.36 L308.13 303.57 L307.82 304.77 L307.47 305.96 L307.06 307.14 L306.61 308.30 L306.12 309.44 L305.59 310.57 L305.01 311.67 L304.39 312.75 L303.73 313.81 L303.04 314.85 L302.30 315.86 L301.53 316.84 L300.72 317.80 L299.88 318.72 L299.01 319.62 L298.11 320.48 L297.17 321.32 L296.21 322.12 L295.23 322.88 L294.21 323.62 L293.18 324.32 L292.13 324.98 L291.05 325.61 L289.96 326.20 L288.85 326.76 L287.73 327.28 L286.60 327.76 L285.46 328.21 L284.30 328.62 L283.14 329.00 L281.98 329.34 L280.81 329.64 L279.63 329.92 L278.46 330.15 L277.29 330.36 L276.12 330.53 L274.96 330.66 L273.80 330.77 L272.65 330.85 L271.50 330.90 L270.37 330.91 L269.25 330.91 L268.14 330.87 L267.04 330.81 L265.96 330.73 L264.89 330.62 L263.84 330.49 L262.81 330.34 L261.79 330.17 L260.79 329.99 L259.81 329.79 L258.86 329.58 L257.92 329.35 L257.00 329.11 L256.10 328.86 L255.23 328.60 L254.37 328.34 L253.54 328.07 L252.73 327.79 L251.94 327.52 L251.17 327.24 L250.43 326.96 L249.70 326.68 L248.99 326.41 L248.31 326.14 L247.64 325.87 L246.99 325.62 L246.36 325.37 L245.75 325.13 L245.15 324.90 L244.57 324.68 L244.01 324.47 L243.46 324.28 L242.92 324.10 L242.39 323.93 L241.88 323.78 L241.37 323.65 L240.87 323.53 L240.38 323.43 L239.90 323.35 L239.42 323.28 L238.94 323.24 L238.47 323.21 L238.00 323.20" fill="none" stroke="#1a1a1a" stroke-width="1.5"/>
<text x="199.23" y="221.70" font-size="20.3" textLength="23.82" lengthAdjust="spacingAndGlyphs" fill="#262626" >60</text>
<text x="200.13" y="262.10" font-size="20.3" textLength="22.89" lengthAdjust="spacingAndGlyphs" fill="#262626" >30</text>
<text x="211.14" y="303.00" font-size="20.3" textLength="12.00" lengthAdjust="spacingAndGlyphs" fill="#262626" >0</text>
<text x="199.70" y="343.80" font-size="20.3" textLength="23.75" lengthAdjust="spacingAndGlyphs" fill="#262626" >30</text>
<text x="198.79" y="384.00" font-size="20.3" textLength="24.69" lengthAdjust="spacingAndGlyphs" fill="#262626" >60</text>
<text x="232.80" y="195.50" font-size="20.3" textLength="21.58" lengthAdjust="spacingAndGlyphs" fill="#262626" >0°</text>
<text x="283.88" y="207.90" font-size="20.3" textLength="32.92" lengthAdjust="spacingAndGlyphs" fill="#262626" >30°</text>
<text x="324.99" y="252.90" font-size="20.3" textLength="33.43" lengthAdjust="spacingAndGlyphs" fill="#262626" >60°</text>
<text x="337.15" y="303.80" font-size="20.3" textLength="33.58" lengthAdjust="spacingAndGlyphs" fill="#262626" >90°</text>
<text x="324.93" y="355.90" font-size="20.3" textLength="40.67" lengthAdjust="spacingAndGlyphs" fill="#262626" >120°</text>
<text x="285.14" y="397.70" font-size="20.3" textLength="40.24" lengthAdjust="spacingAndGlyphs" fill="#262626" >150°</text>
<text transform="translate(178.2,293.5) rotate(-90)" font-size="17" text-anchor="middle" fill="#262626" textLength="143" lengthAdjust="spacingAndGlyphs"><tspan font-style="italic">j</tspan><tspan font-style="italic" font-size="12" dy="3">x</tspan><tspan dy="-3">(|</tspan><tspan font-style="italic">B</tspan><tspan font-style="italic" font-size="12" dy="3">y</tspan><tspan dy="-3">|) (μA cm</tspan><tspan font-size="11.5" dy="-7">−1</tspan><tspan dy="7">)</tspan></text>
<defs><clipPath id="sq"><rect x="387.2" y="228.0" width="76.60" height="76.20"/></clipPath></defs>
<rect x="387.2" y="228.0" width="76.60" height="76.20" fill="#c9c9c9"/>
<path d="M392.00 235.86 L388.00 242.79 L380.00 242.79 L376.00 235.86 L380.00 228.93 L388.00 228.93Z M392.00 249.72 L388.00 256.64 L380.00 256.64 L376.00 249.72 L380.00 242.79 L388.00 242.79Z M392.00 263.57 L388.00 270.50 L380.00 270.50 L376.00 263.57 L380.00 256.64 L388.00 256.64Z M392.00 277.43 L388.00 284.36 L380.00 284.36 L376.00 277.43 L380.00 270.50 L388.00 270.50Z M392.00 291.28 L388.00 298.21 L380.00 298.21 L376.00 291.28 L380.00 284.36 L388.00 284.36Z M392.00 305.14 L388.00 312.07 L380.00 312.07 L376.00 305.14 L380.00 298.21 L388.00 298.21Z M392.00 319.00 L388.00 325.93 L380.00 325.93 L376.00 319.00 L380.00 312.07 L388.00 312.07Z M392.00 332.85 L388.00 339.78 L380.00 339.78 L376.00 332.85 L380.00 325.93 L388.00 325.93Z M392.00 346.71 L388.00 353.64 L380.00 353.64 L376.00 346.71 L380.00 339.78 L388.00 339.78Z M392.00 360.57 L388.00 367.49 L380.00 367.49 L376.00 360.57 L380.00 353.64 L388.00 353.64Z M404.00 242.79 L400.00 249.72 L392.00 249.72 L388.00 242.79 L392.00 235.86 L400.00 235.86Z M404.00 256.64 L400.00 263.57 L392.00 263.57 L388.00 256.64 L392.00 249.72 L400.00 249.72Z M404.00 270.50 L400.00 277.43 L392.00 277.43 L388.00 270.50 L392.00 263.57 L400.00 263.57Z M404.00 284.36 L400.00 291.28 L392.00 291.28 L388.00 284.36 L392.00 277.43 L400.00 277.43Z M404.00 298.21 L400.00 305.14 L392.00 305.14 L388.00 298.21 L392.00 291.28 L400.00 291.28Z M404.00 312.07 L400.00 319.00 L392.00 319.00 L388.00 312.07 L392.00 305.14 L400.00 305.14Z M404.00 325.93 L400.00 332.85 L392.00 332.85 L388.00 325.93 L392.00 319.00 L400.00 319.00Z M404.00 339.78 L400.00 346.71 L392.00 346.71 L388.00 339.78 L392.00 332.85 L400.00 332.85Z M404.00 353.64 L400.00 360.57 L392.00 360.57 L388.00 353.64 L392.00 346.71 L400.00 346.71Z M404.00 367.49 L400.00 374.42 L392.00 374.42 L388.00 367.49 L392.00 360.57 L400.00 360.57Z M416.00 235.86 L412.00 242.79 L404.00 242.79 L400.00 235.86 L404.00 228.93 L412.00 228.93Z M416.00 249.72 L412.00 256.64 L404.00 256.64 L400.00 249.72 L404.00 242.79 L412.00 242.79Z M416.00 263.57 L412.00 270.50 L404.00 270.50 L400.00 263.57 L404.00 256.64 L412.00 256.64Z M416.00 277.43 L412.00 284.36 L404.00 284.36 L400.00 277.43 L404.00 270.50 L412.00 270.50Z M416.00 291.28 L412.00 298.21 L404.00 298.21 L400.00 291.28 L404.00 284.36 L412.00 284.36Z M416.00 305.14 L412.00 312.07 L404.00 312.07 L400.00 305.14 L404.00 298.21 L412.00 298.21Z M416.00 319.00 L412.00 325.93 L404.00 325.93 L400.00 319.00 L404.00 312.07 L412.00 312.07Z M416.00 332.85 L412.00 339.78 L404.00 339.78 L400.00 332.85 L404.00 325.93 L412.00 325.93Z M416.00 346.71 L412.00 353.64 L404.00 353.64 L400.00 346.71 L404.00 339.78 L412.00 339.78Z M416.00 360.57 L412.00 367.49 L404.00 367.49 L400.00 360.57 L404.00 353.64 L412.00 353.64Z M428.00 242.79 L424.00 249.72 L416.00 249.72 L412.00 242.79 L416.00 235.86 L424.00 235.86Z M428.00 256.64 L424.00 263.57 L416.00 263.57 L412.00 256.64 L416.00 249.72 L424.00 249.72Z M428.00 270.50 L424.00 277.43 L416.00 277.43 L412.00 270.50 L416.00 263.57 L424.00 263.57Z M428.00 284.36 L424.00 291.28 L416.00 291.28 L412.00 284.36 L416.00 277.43 L424.00 277.43Z M428.00 298.21 L424.00 305.14 L416.00 305.14 L412.00 298.21 L416.00 291.28 L424.00 291.28Z M428.00 312.07 L424.00 319.00 L416.00 319.00 L412.00 312.07 L416.00 305.14 L424.00 305.14Z M428.00 325.93 L424.00 332.85 L416.00 332.85 L412.00 325.93 L416.00 319.00 L424.00 319.00Z M428.00 339.78 L424.00 346.71 L416.00 346.71 L412.00 339.78 L416.00 332.85 L424.00 332.85Z M428.00 353.64 L424.00 360.57 L416.00 360.57 L412.00 353.64 L416.00 346.71 L424.00 346.71Z M428.00 367.49 L424.00 374.42 L416.00 374.42 L412.00 367.49 L416.00 360.57 L424.00 360.57Z M440.00 235.86 L436.00 242.79 L428.00 242.79 L424.00 235.86 L428.00 228.93 L436.00 228.93Z M440.00 249.72 L436.00 256.64 L428.00 256.64 L424.00 249.72 L428.00 242.79 L436.00 242.79Z M440.00 263.57 L436.00 270.50 L428.00 270.50 L424.00 263.57 L428.00 256.64 L436.00 256.64Z M440.00 277.43 L436.00 284.36 L428.00 284.36 L424.00 277.43 L428.00 270.50 L436.00 270.50Z M440.00 291.28 L436.00 298.21 L428.00 298.21 L424.00 291.28 L428.00 284.36 L436.00 284.36Z M440.00 305.14 L436.00 312.07 L428.00 312.07 L424.00 305.14 L428.00 298.21 L436.00 298.21Z M440.00 319.00 L436.00 325.93 L428.00 325.93 L424.00 319.00 L428.00 312.07 L436.00 312.07Z M440.00 332.85 L436.00 339.78 L428.00 339.78 L424.00 332.85 L428.00 325.93 L436.00 325.93Z M440.00 346.71 L436.00 353.64 L428.00 353.64 L424.00 346.71 L428.00 339.78 L436.00 339.78Z M440.00 360.57 L436.00 367.49 L428.00 367.49 L424.00 360.57 L428.00 353.64 L436.00 353.64Z M452.00 242.79 L448.00 249.72 L440.00 249.72 L436.00 242.79 L440.00 235.86 L448.00 235.86Z M452.00 256.64 L448.00 263.57 L440.00 263.57 L436.00 256.64 L440.00 249.72 L448.00 249.72Z M452.00 270.50 L448.00 277.43 L440.00 277.43 L436.00 270.50 L440.00 263.57 L448.00 263.57Z M452.00 284.36 L448.00 291.28 L440.00 291.28 L436.00 284.36 L440.00 277.43 L448.00 277.43Z M452.00 298.21 L448.00 305.14 L440.00 305.14 L436.00 298.21 L440.00 291.28 L448.00 291.28Z M452.00 312.07 L448.00 319.00 L440.00 319.00 L436.00 312.07 L440.00 305.14 L448.00 305.14Z M452.00 325.93 L448.00 332.85 L440.00 332.85 L436.00 325.93 L440.00 319.00 L448.00 319.00Z M452.00 339.78 L448.00 346.71 L440.00 346.71 L436.00 339.78 L440.00 332.85 L448.00 332.85Z M452.00 353.64 L448.00 360.57 L440.00 360.57 L436.00 353.64 L440.00 346.71 L448.00 346.71Z M452.00 367.49 L448.00 374.42 L440.00 374.42 L436.00 367.49 L440.00 360.57 L448.00 360.57Z M464.00 235.86 L460.00 242.79 L452.00 242.79 L448.00 235.86 L452.00 228.93 L460.00 228.93Z M464.00 249.72 L460.00 256.64 L452.00 256.64 L448.00 249.72 L452.00 242.79 L460.00 242.79Z M464.00 263.57 L460.00 270.50 L452.00 270.50 L448.00 263.57 L452.00 256.64 L460.00 256.64Z M464.00 277.43 L460.00 284.36 L452.00 284.36 L448.00 277.43 L452.00 270.50 L460.00 270.50Z M464.00 291.28 L460.00 298.21 L452.00 298.21 L448.00 291.28 L452.00 284.36 L460.00 284.36Z M464.00 305.14 L460.00 312.07 L452.00 312.07 L448.00 305.14 L452.00 298.21 L460.00 298.21Z M464.00 319.00 L460.00 325.93 L452.00 325.93 L448.00 319.00 L452.00 312.07 L460.00 312.07Z M464.00 332.85 L460.00 339.78 L452.00 339.78 L448.00 332.85 L452.00 325.93 L460.00 325.93Z M464.00 346.71 L460.00 353.64 L452.00 353.64 L448.00 346.71 L452.00 339.78 L460.00 339.78Z M464.00 360.57 L460.00 367.49 L452.00 367.49 L448.00 360.57 L452.00 353.64 L460.00 353.64Z M476.00 242.79 L472.00 249.72 L464.00 249.72 L460.00 242.79 L464.00 235.86 L472.00 235.86Z M476.00 256.64 L472.00 263.57 L464.00 263.57 L460.00 256.64 L464.00 249.72 L472.00 249.72Z M476.00 270.50 L472.00 277.43 L464.00 277.43 L460.00 270.50 L464.00 263.57 L472.00 263.57Z M476.00 284.36 L472.00 291.28 L464.00 291.28 L460.00 284.36 L464.00 277.43 L472.00 277.43Z M476.00 298.21 L472.00 305.14 L464.00 305.14 L460.00 298.21 L464.00 291.28 L472.00 291.28Z M476.00 312.07 L472.00 319.00 L464.00 319.00 L460.00 312.07 L464.00 305.14 L472.00 305.14Z M476.00 325.93 L472.00 332.85 L464.00 332.85 L460.00 325.93 L464.00 319.00 L472.00 319.00Z M476.00 339.78 L472.00 346.71 L464.00 346.71 L460.00 339.78 L464.00 332.85 L472.00 332.85Z M476.00 353.64 L472.00 360.57 L464.00 360.57 L460.00 353.64 L464.00 346.71 L472.00 346.71Z M476.00 367.49 L472.00 374.42 L464.00 374.42 L460.00 367.49 L464.00 360.57 L472.00 360.57Z M488.00 235.86 L484.00 242.79 L476.00 242.79 L472.00 235.86 L476.00 228.93 L484.00 228.93Z M488.00 249.72 L484.00 256.64 L476.00 256.64 L472.00 249.72 L476.00 242.79 L484.00 242.79Z M488.00 263.57 L484.00 270.50 L476.00 270.50 L472.00 263.57 L476.00 256.64 L484.00 256.64Z M488.00 277.43 L484.00 284.36 L476.00 284.36 L472.00 277.43 L476.00 270.50 L484.00 270.50Z M488.00 291.28 L484.00 298.21 L476.00 298.21 L472.00 291.28 L476.00 284.36 L484.00 284.36Z M488.00 305.14 L484.00 312.07 L476.00 312.07 L472.00 305.14 L476.00 298.21 L484.00 298.21Z M488.00 319.00 L484.00 325.93 L476.00 325.93 L472.00 319.00 L476.00 312.07 L484.00 312.07Z M488.00 332.85 L484.00 339.78 L476.00 339.78 L472.00 332.85 L476.00 325.93 L484.00 325.93Z M488.00 346.71 L484.00 353.64 L476.00 353.64 L472.00 346.71 L476.00 339.78 L484.00 339.78Z M488.00 360.57 L484.00 367.49 L476.00 367.49 L472.00 360.57 L476.00 353.64 L484.00 353.64Z" fill="none" stroke="#a9a9a9" stroke-width="0.9" clip-path="url(#sq)"/>
<path d="M387.2 263.8 H373.9 V274.8 M368.2 274.8 H380.6" fill="none" stroke="#2a2a2a" stroke-width="1.6"/>
<line x1="463.80" y1="266.40" x2="486.00" y2="266.40" stroke="#222" stroke-width="1.8" />
<path d="M491.50 266.40 L482.00 271.90 L484.60 266.40 L482.00 260.90 Z" fill="#222"/>
<text x="478.3" y="248.8" font-size="18" fill="#262626"><tspan font-style="italic">j</tspan><tspan font-style="italic" font-size="13.5" dy="6.8">x</tspan></text>
<text x="385.60" y="219.60" font-size="20" fill="#262626" >β</text>
<path d="M386.7 226.3 H401.2 L415.6 248.6" fill="none" stroke="#2a2a2a" stroke-width="1.0"/>
<line x1="425.40" y1="261.70" x2="425.40" y2="234.00" stroke="#1a1a1a" stroke-width="1.7" />
<path d="M425.40 228.00 L430.60 238.00 L425.40 235.60 L420.20 238.00 Z" fill="#1a1a1a"/>
<line x1="399.54" y1="242.22" x2="450.86" y2="293.08" stroke="#1a1a1a" stroke-width="1.7" />
<path d="M453.70 295.90 L443.93 292.97 L448.87 291.11 L450.69 286.16 Z" fill="#1a1a1a"/>
<path d="M396.70 239.40 L406.47 242.33 L401.53 244.19 L399.71 249.14 Z" fill="#1a1a1a"/>
<path d="M412.87 255.27 A18.0 18.0 0 0 1 424.97 250.01" fill="none" stroke="#2a2a2a" stroke-width="1.0"/>
<text x="432.80" y="256.00" font-size="18" textLength="12" lengthAdjust="spacingAndGlyphs" font-weight="bold" fill="#111" stroke="#111" stroke-width="0.45">B</text>
<text x="420.40" y="299.60" font-size="18" textLength="11" lengthAdjust="spacingAndGlyphs" font-weight="bold" fill="#111" stroke="#111" stroke-width="0.45">E</text>
<rect x="474.3" y="309.3" width="133.2" height="90" fill="#fff" stroke="#555" stroke-width="1.1"/>
<text x="485.65" y="333.90" font-size="18.5" textLength="81.01" lengthAdjust="spacingAndGlyphs" fill="#262626" >Sample A</text>
<text x="485.5" y="358.4" font-size="18.5" fill="#262626" textLength="106" lengthAdjust="spacingAndGlyphs"><tspan font-style="italic">f</tspan> = 3.34 THz</text>
<text x="486.0" y="382.9" font-size="18.5" fill="#262626">|<tspan font-style="italic">B</tspan><tspan font-style="italic" font-size="13" dy="4">y</tspan><tspan dy="-4">| = 7 T</tspan></text>
<path d="M83.5 509.9 H619.6 V707.2 H83.5 Z" fill="none" stroke="#9a9a9a" stroke-width="1.4"/>
<line x1="74.20" y1="707.20" x2="83.50" y2="707.20" stroke="#555" stroke-width="1.2" />
<line x1="74.20" y1="628.40" x2="83.50" y2="628.40" stroke="#555" stroke-width="1.2" />
<line x1="74.20" y1="549.60" x2="83.50" y2="549.60" stroke="#555" stroke-width="1.2" />
<line x1="79.10" y1="667.80" x2="83.50" y2="667.80" stroke="#555" stroke-width="1.2" />
<line x1="79.10" y1="589.00" x2="83.50" y2="589.00" stroke="#555" stroke-width="1.2" />
<line x1="619.60" y1="510.60" x2="619.60" y2="707.20" stroke="#6a6a6a" stroke-width="1.4" />
<line x1="619.60" y1="707.20" x2="628.20" y2="707.20" stroke="#555" stroke-width="1.2" />
<line x1="619.60" y1="616.80" x2="628.20" y2="616.80" stroke="#555" stroke-width="1.2" />
<line x1="619.60" y1="526.40" x2="628.20" y2="526.40" stroke="#555" stroke-width="1.2" />
<line x1="619.60" y1="662.00" x2="624.20" y2="662.00" stroke="#555" stroke-width="1.2" />
<line x1="619.60" y1="571.60" x2="624.20" y2="571.60" stroke="#555" stroke-width="1.2" />
<line x1="111.45" y1="707.20" x2="111.45" y2="711.70" stroke="#444" stroke-width="1.1" />
<line x1="134.03" y1="707.20" x2="134.03" y2="711.70" stroke="#444" stroke-width="1.1" />
<line x1="153.12" y1="707.20" x2="153.12" y2="711.70" stroke="#444" stroke-width="1.1" />
<line x1="169.66" y1="707.20" x2="169.66" y2="711.70" stroke="#444" stroke-width="1.1" />
<line x1="184.25" y1="707.20" x2="184.25" y2="711.70" stroke="#444" stroke-width="1.1" />
<line x1="283.15" y1="707.20" x2="283.15" y2="711.70" stroke="#444" stroke-width="1.1" />
<line x1="333.37" y1="707.20" x2="333.37" y2="711.70" stroke="#444" stroke-width="1.1" />
<line x1="369.01" y1="707.20" x2="369.01" y2="711.70" stroke="#444" stroke-width="1.1" />
<line x1="396.65" y1="707.20" x2="396.65" y2="711.70" stroke="#444" stroke-width="1.1" />
<line x1="419.23" y1="707.20" x2="419.23" y2="711.70" stroke="#444" stroke-width="1.1" />
<line x1="438.32" y1="707.20" x2="438.32" y2="711.70" stroke="#444" stroke-width="1.1" />
<line x1="454.86" y1="707.20" x2="454.86" y2="711.70" stroke="#444" stroke-width="1.1" />
<line x1="469.45" y1="707.20" x2="469.45" y2="711.70" stroke="#444" stroke-width="1.1" />
<line x1="568.35" y1="707.20" x2="568.35" y2="711.70" stroke="#444" stroke-width="1.1" />
<line x1="197.30" y1="707.20" x2="197.30" y2="715.70" stroke="#444" stroke-width="1.1" />
<line x1="482.50" y1="707.20" x2="482.50" y2="715.70" stroke="#444" stroke-width="1.1" />
<polyline points="91,588.10 189.5,588.90 270.4,589.90 333.5,590.60 415.1,594.10 474.9,600.40 527.2,611.60 567,625.50 616,645.60" fill="none" stroke="#3a3a3a" stroke-width="1.05"/>
<polyline points="93.5,553.20 189.7,551.40 270.4,549.10 333.5,547.00 415.1,543.10 474.9,540.40 527.2,536.80 566.5,531.40 615.7,522.30" fill="none" stroke="#2a2a2a" stroke-width="1.25"/>
<circle cx="91.3" cy="587.6" r="4.05" fill="#aaaaaa" stroke="#222" stroke-width="1.4"/>
<circle cx="189.8" cy="588.4" r="4.05" fill="#aaaaaa" stroke="#222" stroke-width="1.4"/>
<circle cx="270.7" cy="589.4" r="4.05" fill="#aaaaaa" stroke="#222" stroke-width="1.4"/>
<circle cx="333.8" cy="590.1" r="4.05" fill="#aaaaaa" stroke="#222" stroke-width="1.4"/>
<circle cx="415.40000000000003" cy="593.6" r="4.05" fill="#aaaaaa" stroke="#222" stroke-width="1.4"/>
<circle cx="475.2" cy="599.9" r="4.05" fill="#aaaaaa" stroke="#222" stroke-width="1.4"/>
<circle cx="527.5" cy="611.1" r="4.05" fill="#aaaaaa" stroke="#222" stroke-width="1.4"/>
<circle cx="567.3" cy="625" r="4.05" fill="#aaaaaa" stroke="#222" stroke-width="1.4"/>
<circle cx="616.3" cy="645.1" r="4.05" fill="#aaaaaa" stroke="#222" stroke-width="1.4"/>
<path d="M93.5 547.20 L98.3 555.00 L88.7 555.00 Z" fill="#a4a4a4" stroke="#222" stroke-width="1.35" stroke-linejoin="round"/>
<path d="M189.7 545.40 L194.5 553.20 L184.89999999999998 553.20 Z" fill="#a4a4a4" stroke="#222" stroke-width="1.35" stroke-linejoin="round"/>
<path d="M270.4 543.10 L275.2 550.90 L265.59999999999997 550.90 Z" fill="#a4a4a4" stroke="#222" stroke-width="1.35" stroke-linejoin="round"/>
<path d="M333.5 541.00 L338.3 548.80 L328.7 548.80 Z" fill="#a4a4a4" stroke="#222" stroke-width="1.35" stroke-linejoin="round"/>
<path d="M415.1 537.10 L419.90000000000003 544.90 L410.3 544.90 Z" fill="#a4a4a4" stroke="#222" stroke-width="1.35" stroke-linejoin="round"/>
<path d="M474.9 534.40 L479.7 542.20 L470.09999999999997 542.20 Z" fill="#a4a4a4" stroke="#222" stroke-width="1.35" stroke-linejoin="round"/>
<path d="M527.2 530.80 L532.0 538.60 L522.4000000000001 538.60 Z" fill="#a4a4a4" stroke="#222" stroke-width="1.35" stroke-linejoin="round"/>
<path d="M566.5 525.40 L571.3 533.20 L561.7 533.20 Z" fill="#a4a4a4" stroke="#222" stroke-width="1.35" stroke-linejoin="round"/>
<path d="M615.7 516.30 L620.5 524.10 L610.9000000000001 524.10 Z" fill="#a4a4a4" stroke="#222" stroke-width="1.35" stroke-linejoin="round"/>
<path d="M478.3 619.5 V637.9 H445" fill="none" stroke="#222" stroke-width="1.9"/>
<path d="M439.30 637.90 L448.80 632.40 L446.20 637.90 L448.80 643.40 Z" fill="#222"/>
<path d="M556.6 544.3 V566.9 H582" fill="none" stroke="#222" stroke-width="1.9"/>
<path d="M587.80 566.90 L578.30 572.40 L580.90 566.90 L578.30 561.40 Z" fill="#222"/>
<text x="7.00" y="508.90" font-size="22" font-weight="bold" fill="#1a1a1a" >b</text>
<text x="55.75" y="554.80" font-size="20" textLength="11.23" lengthAdjust="spacingAndGlyphs" fill="#262626" >4</text>
<text x="55.57" y="634.10" font-size="20" textLength="11.49" lengthAdjust="spacingAndGlyphs" fill="#262626" >2</text>
<text x="54.95" y="712.70" font-size="20" textLength="11.88" lengthAdjust="spacingAndGlyphs" fill="#262626" >0</text>
<text x="634.92" y="532.80" font-size="20" textLength="13.08" lengthAdjust="spacingAndGlyphs" fill="#262626" >2</text>
<text x="636.51" y="621.90" font-size="20" textLength="7.33" lengthAdjust="spacingAndGlyphs" fill="#262626" >1</text>
<text x="636.05" y="712.30" font-size="20" textLength="13.16" lengthAdjust="spacingAndGlyphs" fill="#262626" >0</text>
<text x="185.95" y="739.50" font-size="20" textLength="21.52" lengthAdjust="spacingAndGlyphs" fill="#262626" >10</text>
<text x="465.64" y="739.70" font-size="20" textLength="32.51" lengthAdjust="spacingAndGlyphs" fill="#262626" >100</text>
<text x="330.2" y="772.3" font-size="19.5" fill="#262626"><tspan font-style="italic">T</tspan> (K)</text>
<text transform="translate(33.8,604.9) rotate(-90)" font-size="18" text-anchor="middle" fill="#262626" textLength="163" lengthAdjust="spacingAndGlyphs"><tspan font-style="italic">μ</tspan> (×10<tspan font-size="12" dy="-7">3</tspan><tspan dy="7"> cm</tspan><tspan font-size="12" dy="-7">2</tspan><tspan dy="7"> V</tspan><tspan font-size="12" dy="-7">−1</tspan><tspan dy="7"> s</tspan><tspan font-size="12" dy="-7">−1</tspan><tspan dy="7">)</tspan></text>
<text transform="translate(661.5,611.4) rotate(90)" font-size="17.5" text-anchor="middle" fill="#262626" textLength="137.5" lengthAdjust="spacingAndGlyphs"><tspan font-style="italic">n</tspan> (×10<tspan font-size="12" dy="-7">12</tspan><tspan dy="7">  cm</tspan><tspan font-size="12" dy="-7">−2</tspan><tspan dy="7">)</tspan></text>
</svg></body></html>
